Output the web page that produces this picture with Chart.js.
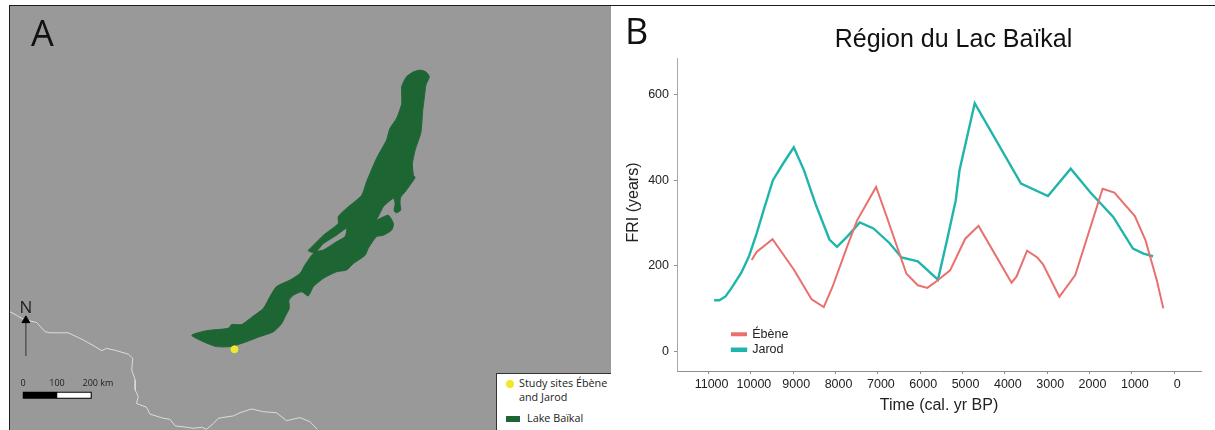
<!DOCTYPE html>
<html lang="fr">
<head>
<meta charset="utf-8">
<title>Région du Lac Baïkal</title>
<script src="https://cdn.jsdelivr.net/npm/chart.js@4/dist/chart.umd.min.js"></script>
<style>
  html,body{margin:0;padding:0;background:#fff;width:1215px;height:430px;overflow:hidden;}
  #stage{position:relative;width:1215px;height:430px;overflow:hidden;font-family:"Liberation Sans",sans-serif;}
  canvas{position:absolute;display:block;}
  #mapCanvas{left:10px;top:6px;background:#999999;}
  #lineCanvas{left:612px;top:0;}
  .rule{position:absolute;background:#1c1c1c;}
  .t{position:absolute;white-space:nowrap;line-height:1;}
  .panel{font-family:"Open Sans",sans-serif;font-size:36px;color:#111;}
  .sc{font-family:"Open Sans",sans-serif;font-size:9px;color:#222;transform:translateX(-50%);}
  #legendBox{position:absolute;left:496px;top:373px;width:115px;height:57px;background:#fff;border-left:1px solid #333;border-top:1px solid #333;box-sizing:border-box;}
  .lg{font-family:"Open Sans",sans-serif;font-size:10.8px;color:#222;}
</style>
</head>
<body>
<div id="stage">
  <canvas id="mapCanvas" width="601" height="424"></canvas>
  <canvas id="lineCanvas" width="603" height="430"></canvas>
  <div class="rule" style="left:9px;top:5px;width:1206px;height:1px"></div>
  <div class="rule" style="left:9px;top:5px;width:1px;height:425px"></div>
  <div class="t panel" style="left:31px;top:15px">A</div>
  <div class="t panel" style="left:625px;top:13px">B</div>
  <div class="t" style="left:26px;top:298px;font-family:'Open Sans',sans-serif;font-size:17px;color:#222;transform:translateX(-50%)">N</div>
  <div class="t sc" style="left:23px;top:378px">0</div>
  <div class="t sc" style="left:57px;top:378px">100</div>
  <div class="t sc" style="left:98px;top:378px">200 km</div>
  <div id="legendBox"></div>
  <div class="t" style="left:506px;top:380px;width:8px;height:8px;border-radius:50%;background:#f0e92a"></div>
  <div class="t lg" style="left:519px;top:378px">Study sites Ébène</div>
  <div class="t lg" style="left:519px;top:392px">and Jarod</div>
  <div class="t" style="left:506px;top:416px;width:14px;height:6px;background:#1e6534"></div>
  <div class="t lg" style="left:527px;top:413px">Lake Baïkal</div>
</div>
<script>
// ---------- Panel B: fire return interval ----------
const chartTitle = "Région du Lac Baïkal";
const xAxisTitle = "Time (cal. yr BP)";
const yAxisTitle = "FRI (years)";
const xTickValues = [11000,10000,9000,8000,7000,6000,5000,4000,3000,2000,1000,0];
const yTickValues = [0,200,400,600];

const ebeneAge = [9982,9865,9489,8987,8566,8279,8073,7714,7490,7042,6818,6325,6056,5832,5608,5294,4936,4622,3842,3725,3475,3233,3098,2713,2336,1691,1413,929,679,410,257];
const ebeneFri = [213,232,262,191,121,103,150,248,306,384,322,181,154,148,164,189,263,293,160,174,235,219,203,127,178,380,371,316,260,166,100];

const jarodAge = [10869,10744,10600,10448,10224,10045,9865,9686,9480,9238,8987,8745,8476,8144,7965,7714,7427,7105,6728,6441,6056,5581,5366,5160,5070,4712,3618,2982,2444,1978,1440,974,723,499];
const jarodFri = [119,119,128,149,184,222,275,334,400,439,477,423,345,261,244,269,301,287,253,219,210,167,260,353,424,580,392,363,427,371,314,240,228,222];

// ---------- Panel A: map, in kilometres from the lower-left corner ----------
const lakeEastKm = [1170,1189,1206,1216,1206,1202,1197,1194,1191,1175,1167,1170,1175,1160,1146,1133,1131,1133,1121,1114,1117,1112,1083,1068,1063,1097,1112,1107,1083,1063,1039,1030,996,976,947,909,880,865,846,822,809,810,798,788,764,725,677,638,599,561,527,570,633,643,672,701,735,754,773,812,841,855,875,885,909,947,972,976,947,909,885,865,880,909,952,952,976,1020,1034,1063,1092,1102,1121,1136,1136,1150,1170];
const lakeNorthKm = [1039,1044,1039,1025,1000,967,928,884,860,812,773,739,733,710,691,675,659,638,630,636,657,672,648,619,609,623,599,580,565,561,527,507,483,464,459,440,416,389,401,391,377,353,329,309,285,271,253,242,242,256,275,288,295,306,306,327,353,387,416,435,454,478,507,517,522,546,561,585,565,541,515,520,536,565,599,619,643,681,720,788,841,875,904,947,996,1025,1039];

const borderEastKm = [0,19,39,77,102,116,169,213,247,266,280,309,343,356,353,363,363,372,367,396,406,445,464,479,512,532,556,570,590,604,648,667,701,735,773,802,841,870,891];
const borderNorthKm = [343,333,321,312,285,282,282,261,242,230,237,230,220,208,174,145,116,97,77,66,46,34,31,12,8,5,8,2,19,34,41,50,61,53,50,27,36,24,2];

const siteEastKm = [651];
const siteNorthKm = [234];

const scaleBarKm = [37,137,237];
const scaleBarNorthKm = 101;
const arrowEastKm = 46;
const arrowNorthKm = [215,318];

const pairs = (xs, ys) => xs.map((x, i) => ({x, y: ys[i]}));

// Panel A
new Chart(document.getElementById('mapCanvas'), {
  type: 'scatter',
  data: { datasets: [
    { label: 'Border', data: pairs(borderEastKm, borderNorthKm), showLine: true, borderColor: '#dcdcdc', borderWidth: 1, pointRadius: 0, tension: 0, order: 5 },
    { label: 'Lake Baïkal', data: pairs(lakeEastKm, lakeNorthKm), showLine: true, fill: 'shape', backgroundColor: '#1e6534', borderColor: '#1e6534', borderWidth: 1, pointRadius: 0, tension: 0.2, order: 4 },
    { label: 'Study sites Ébène and Jarod', data: pairs(siteEastKm, siteNorthKm), backgroundColor: '#f0e92a', borderColor: '#f0e92a', pointRadius: 3.5, order: 1 },
    { label: 'Scale 0-200 km', data: [{x: scaleBarKm[0], y: scaleBarNorthKm},{x: scaleBarKm[2], y: scaleBarNorthKm}], showLine: true, borderColor: '#000', borderWidth: 7, pointRadius: 0, order: 3 },
    { label: 'Scale 100-200 km', data: [{x: scaleBarKm[1], y: scaleBarNorthKm},{x: scaleBarKm[2] - 3, y: scaleBarNorthKm}], showLine: true, borderColor: '#fff', borderWidth: 5, pointRadius: 0, order: 2 },
    { label: 'North shaft', data: [{x: arrowEastKm, y: arrowNorthKm[0]},{x: arrowEastKm, y: arrowNorthKm[1]}], showLine: true, borderColor: '#555', borderWidth: 1.5, pointRadius: 0, order: 2 },
    { label: 'North head', data: [{x: arrowEastKm, y: arrowNorthKm[1]}], pointStyle: 'triangle', backgroundColor: '#000', borderColor: '#000', pointRadius: 4.5, order: 1 }
  ]},
  options: {
    responsive: false, animation: false, events: [],
    layout: { padding: 0, autoPadding: false },
    plugins: { legend: { display: false }, tooltip: { enabled: false }, title: { display: false } },
    scales: {
      x: { type: 'linear', display: false, min: 0, max: 1743 },
      y: { type: 'linear', display: false, min: 0, max: 1230 }
    }
  }
});

// Panel B
const placeBlocks = {
  id: 'placeBlocks',
  afterLayout(chart) {
    const leg = chart.legend;
    const w = leg.width, h = leg.height;
    leg.left = 117; leg.top = 325; leg.right = leg.left + w; leg.bottom = leg.top + h;
    const tb = chart.titleBlock;
    tb.left += 47; tb.right += 47;
  }
};

new Chart(document.getElementById('lineCanvas'), {
  type: 'scatter',
  plugins: [placeBlocks],
  data: { datasets: [
    { label: 'Ébène', data: pairs(ebeneAge, ebeneFri), showLine: true, borderColor: '#e8706f', backgroundColor: '#e8706f', borderWidth: 2, pointRadius: 0, tension: 0 },
    { label: 'Jarod', data: pairs(jarodAge, jarodFri), showLine: true, borderColor: '#1fb5ab', backgroundColor: '#1fb5ab', borderWidth: 2.4, pointRadius: 0, tension: 0 }
  ]},
  options: {
    responsive: false, animation: false, events: [],
    layout: { padding: { left: 0, top: 0, bottom: 0, right: 14 }, autoPadding: false },
    plugins: {
      tooltip: { enabled: false },
      title: { display: true, text: chartTitle, color: '#111', font: { family: 'Liberation Sans', size: 25, weight: 'normal', lineHeight: 1.2 }, padding: { top: 25, bottom: 3 } },
      legend: {
        position: 'chartArea', align: 'start',
        labels: { boxWidth: 14, boxHeight: 2, padding: 3, color: '#222', font: { family: 'Liberation Sans', size: 12.5 } }
      }
    },
    scales: {
      x: {
        type: 'linear', reverse: true, min: -634, max: 11746,
        afterBuildTicks(s) { s.ticks = xTickValues.map(value => ({value})); },
        afterFit(s) { s.height = 59; },
        border: { color: '#8c8c8c', width: 1 },
        grid: { display: true, drawOnChartArea: false, tickLength: 3, tickColor: '#8c8c8c' },
        ticks: { autoSkip: false, maxRotation: 0, labelOffset: 3, padding: 3, color: '#222', font: { family: 'Liberation Sans', size: 12.5 }, callback: v => String(v) },
        title: { display: true, text: xAxisTitle, color: '#222', font: { family: 'Liberation Sans', size: 16, lineHeight: 1.2 }, padding: { top: 0, bottom: 14.4 } }
      },
      y: {
        type: 'linear', min: -46.6, max: 685.9,
        afterBuildTicks(s) {
          s.ticks = yTickValues.map(value => ({value}));
          if (!s._shifted) {
            const draw = s.drawTitle;
            s.drawTitle = function () { const c = this.ctx; c.save(); c.translate(0, -12); draw.call(this); c.restore(); };
            s._shifted = true;
          }
        },
        afterFit(s) { s.width = 65; },
        border: { color: '#a8a8a8', width: 1 },
        grid: { display: true, drawOnChartArea: false, tickLength: 3, tickColor: '#8c8c8c' },
        ticks: { padding: 5, color: '#222', font: { family: 'Liberation Sans', size: 12.5 }, callback: v => String(v) },
        title: { display: true, text: yAxisTitle, color: '#222', font: { family: 'Liberation Sans', size: 16, lineHeight: 1.2 }, padding: { top: 12, bottom: 0 } }
      }
    }
  }
});
</script>
</body>
</html>
